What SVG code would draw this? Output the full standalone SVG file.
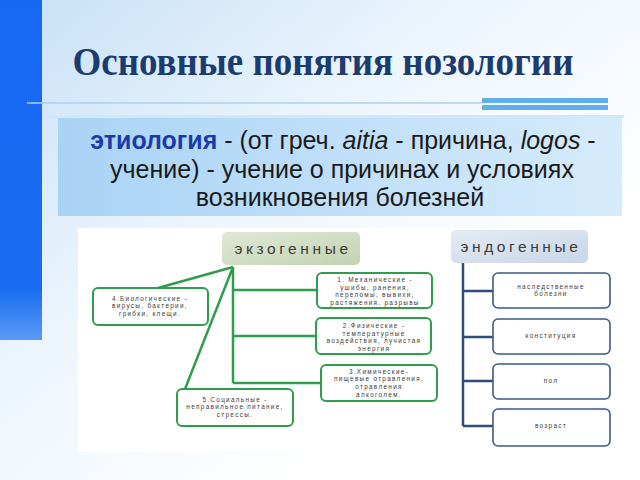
<svg xmlns="http://www.w3.org/2000/svg" width="640" height="480" viewBox="0 0 640 480">
<defs>
<linearGradient id="bg" x1="0" y1="0" x2="0.75" y2="0.7">
<stop offset="0" stop-color="#c6e0f7"/>
<stop offset="0.55" stop-color="#eef6fd"/>
<stop offset="1" stop-color="#ffffff"/>
</linearGradient>
<linearGradient id="box" x1="0" y1="0" x2="1" y2="0">
<stop offset="0" stop-color="#a9d3f5"/>
<stop offset="1" stop-color="#d6ebfb"/>
</linearGradient>
<linearGradient id="exo" x1="0" y1="0" x2="1" y2="1">
<stop offset="0" stop-color="#e0e8d6"/>
<stop offset="1" stop-color="#c2d2b2"/>
</linearGradient>
<linearGradient id="endo" x1="0" y1="0" x2="1" y2="1">
<stop offset="0" stop-color="#e4ebf4"/>
<stop offset="1" stop-color="#c8d6e8"/>
</linearGradient>
<linearGradient id="bar" x1="0" y1="0" x2="0" y2="1">
<stop offset="0" stop-color="#1668f2"/>
<stop offset="0.85" stop-color="#1a6df0"/>
<stop offset="1" stop-color="#5a9af5"/>
</linearGradient>
</defs>
<style>
.t{font-family:"Liberation Sans",Arial,sans-serif;font-size:25px;fill:#1a1a1a;text-anchor:middle}
.g{fill:#fff;stroke:#2f9e4c;stroke-width:2}
.b{fill:#fff;stroke:#3d5a86;stroke-width:1.6}
.gl{stroke:#2f9e4c;stroke-width:2.5;fill:none}
.bl{stroke:#2f4c7c;stroke-width:2.5;fill:none}
.s{font-family:"Liberation Sans",Arial,sans-serif;font-size:6.4px;fill:#3a3a3a;text-anchor:middle;letter-spacing:1.3px}
.h{font-family:"Liberation Sans",Arial,sans-serif;font-size:15.5px;fill:#3a3a3a;text-anchor:middle;letter-spacing:3.6px}
</style>
<rect x="0" y="0" width="640" height="480" fill="url(#bg)"/>
<rect x="0" y="0" width="42" height="340" fill="url(#bar)"/>
<line x1="27" y1="103" x2="482" y2="103" stroke="#a8d2f0" stroke-width="1.5"/>
<rect x="482" y="98" width="126" height="5" fill="#5fb0ea"/>
<rect x="482" y="105" width="126" height="5" fill="#5fb0ea"/>
<text x="323" y="75" font-family="'Liberation Serif','Times New Roman',serif" font-weight="bold" font-size="39" fill="#1c3b6e" text-anchor="middle" textLength="501" lengthAdjust="spacingAndGlyphs">Основные понятия нозологии</text>
<rect x="48" y="115" width="576" height="3" fill="#cfe7f8"/>
<rect x="58" y="118" width="564" height="98" fill="url(#box)"/>
<text class="t" x="343" y="149"><tspan font-weight="bold" fill="#1b3ca8">этиология</tspan> - (от греч. <tspan font-style="italic">aitia</tspan> - причина, <tspan font-style="italic">logos</tspan> -</text>
<text class="t" x="342" y="178">учение) - учение о причинах и условиях</text>
<text class="t" x="340" y="206">возникновения болезней</text>
<rect x="78" y="228" width="548" height="224" fill="#ffffff"/>
<g id="connectors">
<path class="gl" d="M233,267 L158,288 M233,267 L185,389 M233,267 V383 M233,290 H317 M233,336 H316 M233,383 H321"/>
<path class="bl" d="M463,263 V426 M463,291 H493 M463,337 H493 M463,381 H493 M463,426 H493"/>
</g>
<g id="exo-head">
<rect x="222" y="232" width="138" height="33" rx="5" fill="url(#exo)"/>
<text class="h" x="293" y="254">экзогенные</text>
</g>
<g id="exo1">
<rect class="g" x="317" y="273" width="115" height="35" rx="5"/>
<text class="s" x="375" y="282">1. Механические -</text>
<text class="s" x="375" y="289.5">ушибы, ранения,</text>
<text class="s" x="375" y="297">переломы, вывихи,</text>
<text class="s" x="375" y="304.5">растяжения, разрывы</text>
</g>
<g id="exo2">
<rect class="g" x="316" y="318" width="115" height="36" rx="5"/>
<text class="s" x="374" y="328">2.Физические -</text>
<text class="s" x="374" y="335.5">температурные</text>
<text class="s" x="374" y="343">воздействия, лучистая</text>
<text class="s" x="374" y="350.5">энергия</text>
</g>
<g id="exo3">
<rect class="g" x="321" y="365" width="116" height="36" rx="5"/>
<text class="s" x="379" y="373.5">3.Химические-</text>
<text class="s" x="379" y="381">пищевые отравления,</text>
<text class="s" x="379" y="388.5">отравления</text>
<text class="s" x="379" y="397">алкоголем.</text>
</g>
<g id="exo4">
<rect class="g" x="93" y="288" width="115" height="37" rx="5"/>
<text class="s" x="150" y="300.5">4.Биологические -</text>
<text class="s" x="150" y="308">вирусы, бактерии,</text>
<text class="s" x="150" y="315.5">грибки, клещи.</text>
</g>
<g id="exo5">
<rect class="g" x="177" y="389" width="116" height="37" rx="5"/>
<text class="s" x="235" y="401.5">5.Социальные -</text>
<text class="s" x="235" y="409">неправильное питание,</text>
<text class="s" x="235" y="416.5">стрессы.</text>
</g>
<g id="endo-head">
<rect x="451" y="230" width="137" height="33" rx="5" fill="url(#endo)"/>
<text class="h" x="521" y="252">эндогенные</text>
</g>
<g id="endo1">
<rect class="b" x="493" y="273" width="117" height="35" rx="5"/>
<text class="s" x="551" y="288.5">наследственные</text>
<text class="s" x="551" y="296">болезни</text>
</g>
<g id="endo2">
<rect class="b" x="493" y="319" width="117" height="35" rx="5"/>
<text class="s" x="551" y="338">конституция</text>
</g>
<g id="endo3">
<rect class="b" x="493" y="364" width="117" height="35" rx="5"/>
<text class="s" x="551" y="383">пол</text>
</g>
<g id="endo4">
<rect class="b" x="493" y="409" width="117" height="37" rx="5"/>
<text class="s" x="551" y="428">возраст</text>
</g>
</svg>
